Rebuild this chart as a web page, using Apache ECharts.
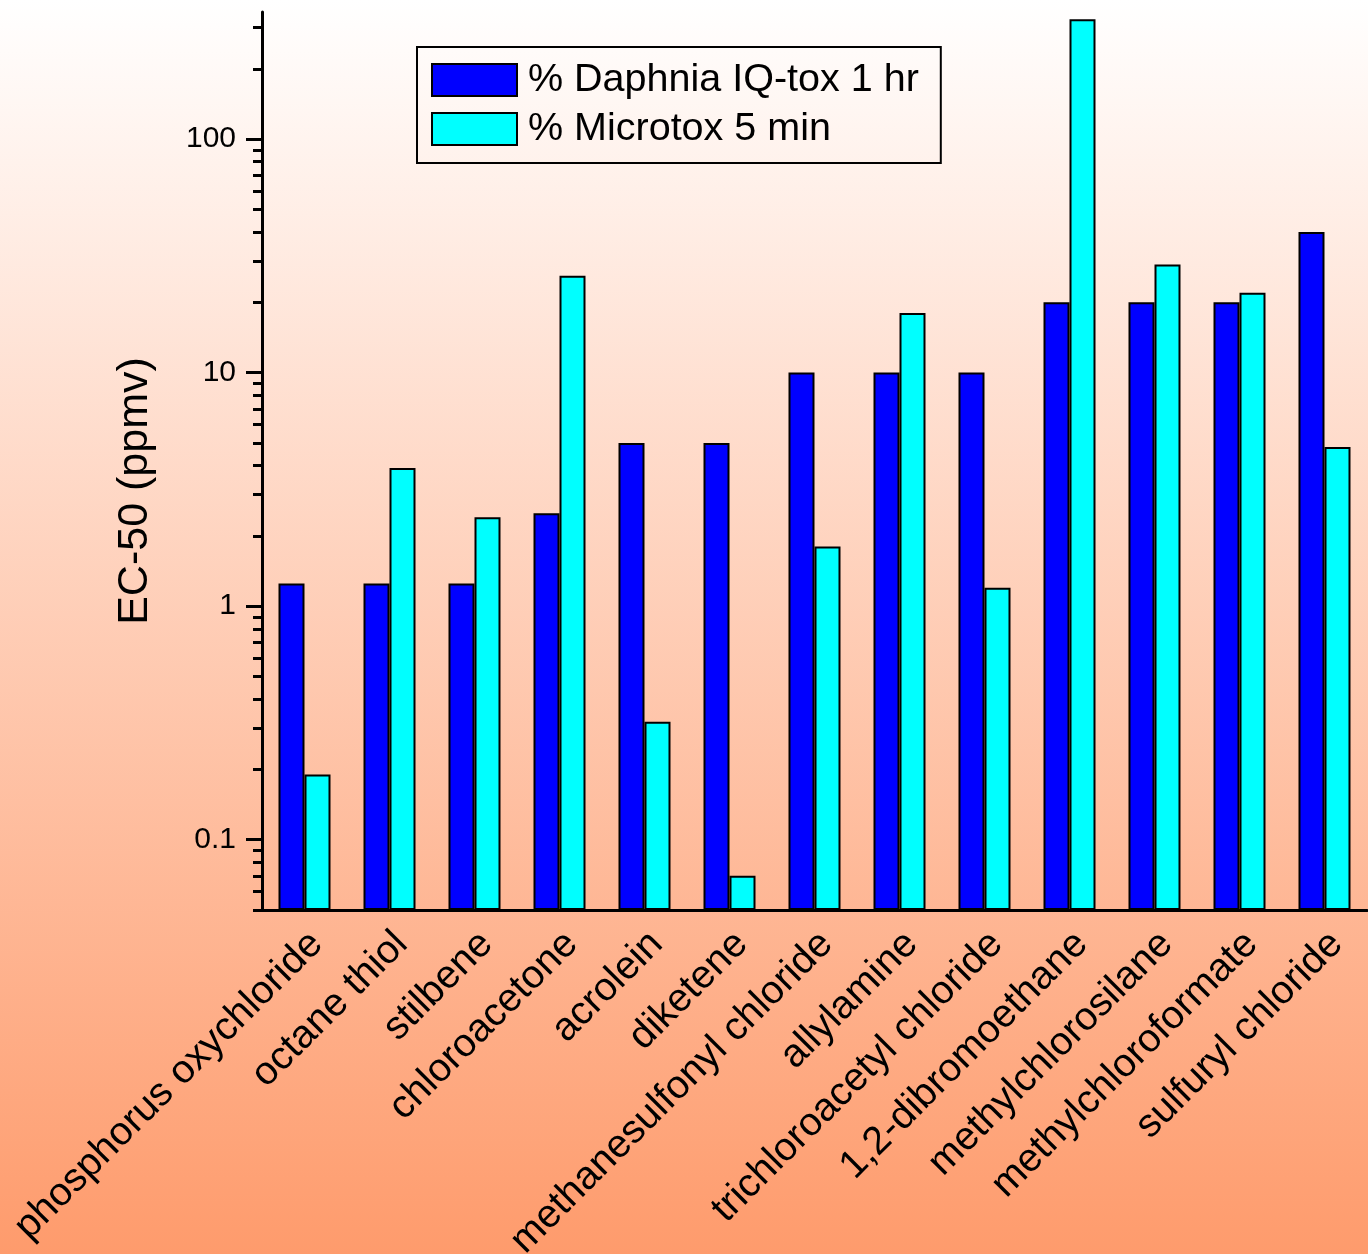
<!DOCTYPE html>
<html>
<head>
<meta charset="utf-8">
<script src="https://cdn.jsdelivr.net/npm/echarts@6/dist/echarts.min.js"></script>
<style>
html,body{margin:0;padding:0;}
#chart{width:1368px;height:1254px;}
</style>
</head>
<body>
<div id="chart"></div>
<script>
const categories = ["phosphorus oxychloride","octane thiol","stilbene","chloroacetone","acrolein","diketene","methanesulfonyl chloride","allylamine","trichloroacetyl chloride","1,2-dibromoethane","methylchlorosilane","methylchloroformate","sulfuryl chloride"];
const daphnia = [1.25,1.25,1.25,2.5,5,5,10,10,10,20,20,20,40];
const microtox = [0.19,3.9,2.4,26,0.32,0.07,1.8,18,1.2,326,29,22,4.8];
const majorTicks = [0.1,1,10,100];
const minorTicks = [0.05,0.06,0.07,0.08,0.09,0.2,0.3,0.4,0.5,0.6,0.7,0.8,0.9,2,3,4,5,6,7,8,9,20,30,40,50,60,70,80,90,200,300];
const seriesNames = ["% Daphnia IQ-tox 1 hr","% Microtox 5 min"];
const axisMin = 0.05, axisMax = 350;

const chart = echarts.init(document.getElementById('chart'));
const font = 'Liberation Sans, Arial, sans-serif';
const yBase = {
  type:'log', min:axisMin, max:axisMax, logBase:10, startValue:axisMin,
  splitLine:{show:false}, minorTick:{show:false}, minorSplitLine:{show:false}
};
chart.setOption({
  animation:false,
  backgroundColor:{type:'linear',x:0,y:0,x2:0,y2:1,colorStops:[{offset:0,color:'#ffffff'},{offset:1,color:'#fe9b6c'}]},
  grid:{left:262,right:1,top:12,bottom:344,containLabel:false,outerBoundsMode:'none'},
  legend:{
    left:417, top:47, orient:'vertical', icon:'rect',
    itemWidth:85, itemHeight:32, itemGap:9,
    padding:[13,22,14,14],
    borderColor:'#000', borderWidth:2,
    textStyle:{fontFamily:font,fontSize:39.5,lineHeight:32,color:'#000',padding:[0,0,0,6]},
    data:seriesNames
  },
  xAxis:[{
    type:'category', data:categories, position:'bottom',
    axisLine:{lineStyle:{color:'#000',width:3}},
    axisTick:{alignWithLabel:true,length:16,lineStyle:{color:'#000',width:3}},
    axisLabel:{rotate:45,interval:0,margin:16,verticalAlign:'top',lineHeight:34,fontFamily:font,fontSize:39.5,color:'#000'}
  },{
    type:'category', data:categories, position:'bottom',
    axisLine:{show:false},
    axisTick:{length:8,lineStyle:{color:'#000',width:3}},
    axisLabel:{show:false}
  }],
  yAxis:[Object.assign({},yBase,{
    name:'EC-50 (ppmv)', nameLocation:'middle', nameGap:105,
    nameTextStyle:{fontFamily:font,fontSize:43,color:'#000',padding:[0,60,0,0]},
    axisLine:{show:true,lineStyle:{color:'#000',width:3}},
    axisTick:{show:true,length:16,customValues:majorTicks,lineStyle:{color:'#000',width:3}},
    axisLabel:{customValues:majorTicks,margin:26,fontFamily:font,fontSize:30,color:'#000',formatter:function(v){return String(v);}}
  }),Object.assign({},yBase,{
    position:'left',
    axisLine:{show:false},
    axisTick:{show:true,length:9,customValues:minorTicks,lineStyle:{color:'#000',width:3}},
    axisLabel:{show:false}
  })],
  series:[{
    name:seriesNames[0], type:'bar', data:daphnia, barWidth:26, barGap:'0%',
    itemStyle:{color:'#0000ff',borderColor:'#000',borderWidth:2}
  },{
    name:seriesNames[1], type:'bar', data:microtox, barWidth:26, barGap:'0%',
    itemStyle:{color:'#00ffff',borderColor:'#000',borderWidth:2}
  }]
});
</script>
</body>
</html>
